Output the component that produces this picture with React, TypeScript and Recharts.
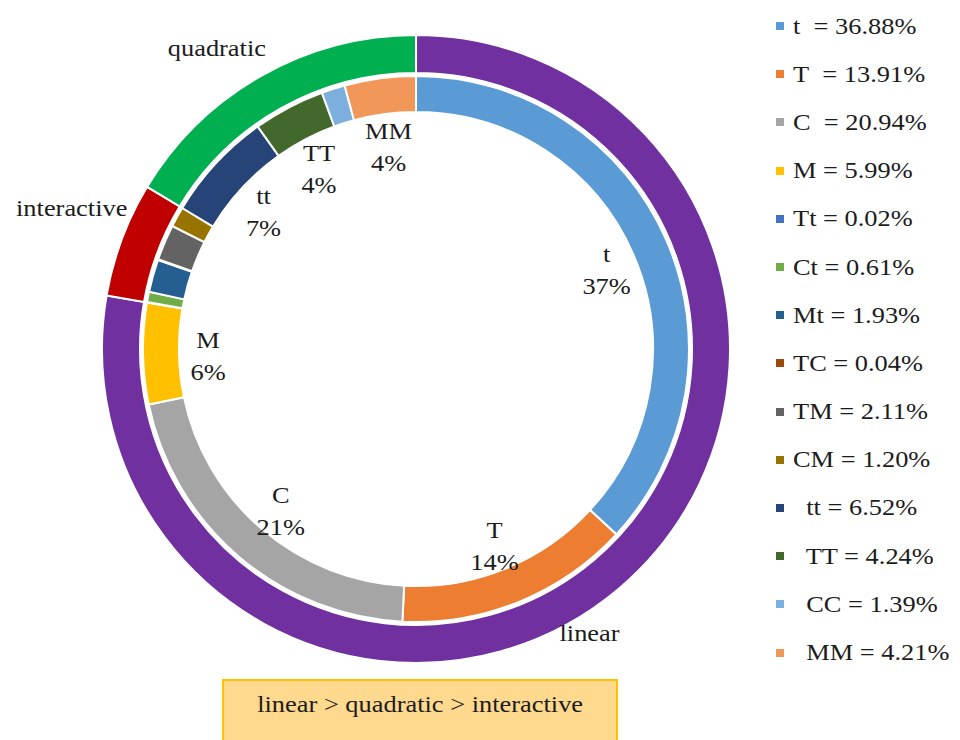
import React from "react";
import { PieChart, Pie, Cell, Legend } from "recharts";

// inner ring: individual terms (% share)
const termNames = ["t", "T", "C", "M", "Tt", "Ct", "Mt", "TC", "TM", "CM", "tt", "TT", "CC", "MM"];
const termValues = [36.88, 13.91, 20.94, 5.99, 0.02, 0.61, 1.93, 0.04, 2.11, 1.2, 6.52, 4.24, 1.39, 4.21];
const termColors = [
  "#5B9BD5", "#ED7D31", "#A5A5A5", "#FFC000", "#4472C4", "#70AD47", "#255E91",
  "#9E480E", "#636363", "#997300", "#264478", "#43682B", "#7CAFDD", "#F1975A",
];
// legend text as it appears (spacing kept)
const legendLabels = [
  "t\u00a0 = 36.88%", "T\u00a0 = 13.91%", "C\u00a0 = 20.94%", "M = 5.99%", "Tt = 0.02%",
  "Ct = 0.61%", "Mt = 1.93%", "TC = 0.04%", "TM = 2.11%", "CM = 1.20%",
  "\u00a0 tt = 6.52%", "\u00a0 TT = 4.24%", "\u00a0 CC = 1.39%", "\u00a0 MM = 4.21%",
];

// outer ring: term groups
const groupNames = ["linear", "interactive", "quadratic"];
const groupValues = [77.72, 5.91, 16.36];
const groupColors = ["#7030A0", "#C00000", "#00B050"];

const summary = "linear > quadratic > interactive";

const FONT = '"Liberation Serif", "Times New Roman", serif';
const INK = "#1c1c1c";
const STRETCH = 1.1; // the source text is a bit wider than the font
const RADIAN = Math.PI / 180;

// hand nudges for the outer ring labels
const groupLabelNudge: Record<string, [number, number]> = {
  linear: [-48, 21],
  interactive: [-22, -21],
  quadratic: [-30, -2],
};

const innerData = termNames.map((name, i) => ({ name, value: termValues[i] }));
const outerData = groupNames.map((name, i) => ({ name, value: groupValues[i] }));

const InnerLabel = (props: any) => {
  const { cx, cy, midAngle, value, name } = props;
  if (value < 3) return null;
  const r = 208;
  const x = cx + r * Math.cos(-midAngle * RADIAN);
  const y = cy + r * Math.sin(-midAngle * RADIAN);
  return (
    <g transform={`translate(${x},${y}) scale(${STRETCH},1)`}>
      <text x={0} y={0} textAnchor="middle" fontFamily={FONT} fontSize={24} fill={INK}>
        <tspan x={0} dy={-4}>{name}</tspan>
        <tspan x={0} dy={32}>{Math.round(value)}%</tspan>
      </text>
    </g>
  );
};

const OuterLabel = (props: any) => {
  const { cx, cy, midAngle, name } = props;
  const r = 344;
  const [dx, dy] = groupLabelNudge[name] || [0, 0];
  const x = cx + r * Math.cos(-midAngle * RADIAN) + dx;
  const y = cy + r * Math.sin(-midAngle * RADIAN) + dy;
  return (
    <g transform={`translate(${x},${y}) scale(${STRETCH},1)`}>
      <text x={0} y={0} textAnchor="middle" dominantBaseline="central" fontFamily={FONT} fontSize={24} fill={INK}>
        {name}
      </text>
    </g>
  );
};

const LegendList = () => (
  <div style={{ fontFamily: FONT, fontSize: 24, color: INK }}>
    {legendLabels.map((label, i) => (
      <div key={termNames[i]} style={{ height: 48.2, display: "flex", alignItems: "center", whiteSpace: "pre" }}>
        <span style={{ width: 8, height: 8, background: termColors[i], display: "inline-block", marginRight: 9, flex: "none" }} />
        <span style={{ display: "inline-block", transform: `scaleX(${STRETCH})`, transformOrigin: "left center" }}>{label}</span>
      </div>
    ))}
  </div>
);

export default function App() {
  return (
    <div style={{ position: "absolute", left: 0, top: 0, width: 960, height: 740, background: "#fff", overflow: "hidden" }}>
      <PieChart width={960} height={740} margin={{ top: 0, right: 0, bottom: 0, left: 0 }}>
        <Pie
          data={innerData}
          dataKey="value"
          nameKey="name"
          cx={416}
          cy={349}
          innerRadius={237}
          outerRadius={273}
          startAngle={90}
          endAngle={-270}
          stroke="#fff"
          strokeWidth={2}
          label={InnerLabel}
          labelLine={false}
          isAnimationActive={false}
        >
          {innerData.map((d, i) => (
            <Cell key={d.name} fill={termColors[i]} />
          ))}
        </Pie>
        <Pie
          data={outerData}
          dataKey="value"
          nameKey="name"
          cx={416}
          cy={349}
          innerRadius={276}
          outerRadius={314}
          startAngle={90}
          endAngle={-270}
          stroke="#fff"
          strokeWidth={2}
          label={OuterLabel}
          labelLine={false}
          isAnimationActive={false}
        >
          {outerData.map((d, i) => (
            <Cell key={d.name} fill={groupColors[i]} />
          ))}
        </Pie>
        <Legend
          layout="vertical"
          content={<LegendList />}
          wrapperStyle={{ position: "absolute", left: 776, top: 2, width: 184 }}
        />
      </PieChart>
      <div
        style={{
          position: "absolute",
          left: 222,
          top: 679,
          width: 396,
          height: 70,
          boxSizing: "border-box",
          background: "#FFD98E",
          border: "2px solid #FFC000",
          fontFamily: FONT,
          fontSize: 24,
          color: INK,
          textAlign: "center",
          paddingTop: 10,
        }}
      >
        <span style={{ display: "inline-block", transform: `scaleX(${STRETCH})` }}>{summary}</span>
      </div>
    </div>
  );
}
